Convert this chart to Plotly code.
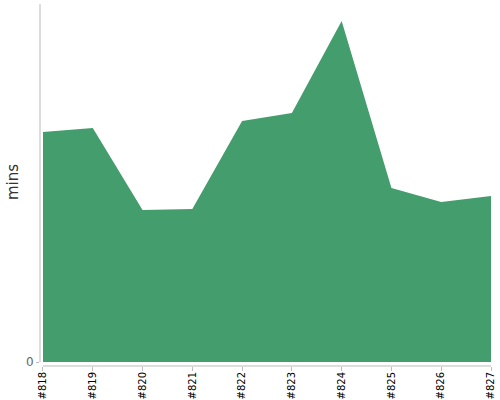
import plotly.graph_objects as go

builds = ["#818", "#819", "#820", "#821", "#822", "#823", "#824", "#825", "#826", "#827"]
mins = [23.0, 23.4, 15.2, 15.3, 24.1, 24.9, 34.1, 17.4, 16.0, 16.6]
y_top = 35.8

fig = go.Figure()
fig.add_trace(go.Scatter(
    x=builds, y=mins, mode="lines", fill="tozeroy",
    fillcolor="#449d6c", line=dict(width=0, color="#449d6c"),
    hoverinfo="x+y",
))

fig.update_layout(
    width=500, height=400,
    margin=dict(l=40, r=9, t=4, b=34),
    paper_bgcolor="white", plot_bgcolor="white",
    showlegend=False,
    font=dict(family="DejaVu Sans"),
    xaxis=dict(
        type="category", range=[-0.06, 9], showgrid=False, zeroline=False,
        showline=False, ticks="outside", ticklen=4, tickcolor="#bbbbbb",
        tickangle=-90, tickfont=dict(family="DejaVu Sans", size=10, color="#000000"),
        automargin=False, ticklabelstandoff=-3,
    ),
    yaxis=dict(
        range=[-0.4, y_top], showgrid=False, zeroline=False, showline=False,
        tickvals=[0], ticktext=["0"], ticks="outside", ticklen=3,
        tickcolor="#bbbbbb", tickfont=dict(family="DejaVu Sans", size=12, color="#666666"),
        automargin=False,
    ),
    annotations=[
        dict(text="mins", textangle=-90, xref="paper", yref="paper", x=0, y=0.5,
             xanchor="center", yanchor="middle", xshift=-27, yshift=3,
             showarrow=False, font=dict(family="DejaVu Sans", size=15, color="#333333")),
    ],
    shapes=[
        dict(type="line", xref="paper", yref="y", x0=0, x1=0, y0=0, y1=y_top,
             line=dict(color="#bbbbbb", width=1)),
        dict(type="line", xref="x", yref="paper", x0=0, x1=9, y0=0, y1=0,
             line=dict(color="#bbbbbb", width=1)),
    ],
)

fig.write_html(
    "out.html",
    config={"displayModeBar": False},
    post_script="document.body.style.margin='0';document.body.style.overflow='hidden';",
)
